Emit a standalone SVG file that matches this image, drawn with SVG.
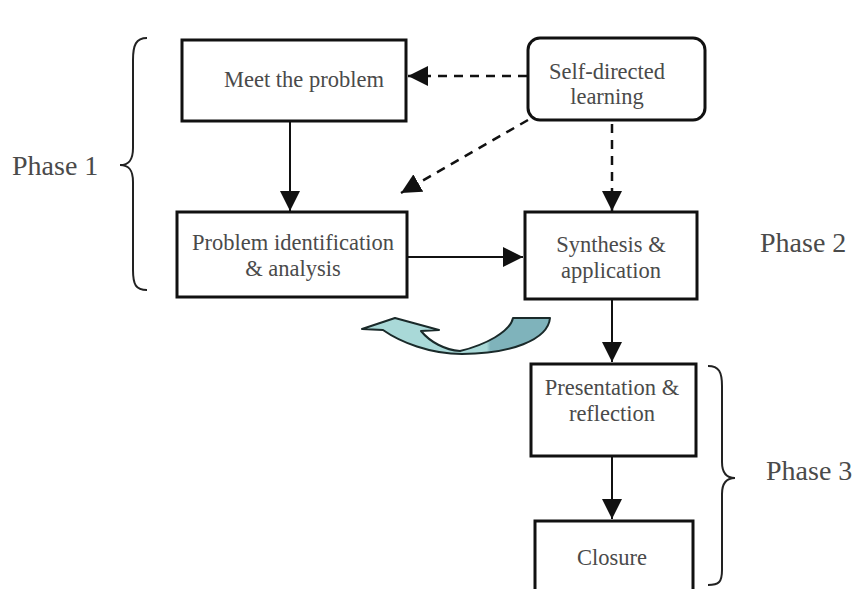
<svg xmlns="http://www.w3.org/2000/svg" width="857" height="589" viewBox="0 0 857 589">
<defs>
<style>
.box{fill:#fff;stroke:#111;stroke-width:3}
.t{font-family:"Liberation Serif","Times New Roman",serif;font-size:22.5px;fill:#4a4a4a;text-anchor:middle}
.ph{font-family:"Liberation Serif","Times New Roman",serif;font-size:28px;fill:#4a4a4a}
.ln{stroke:#111;stroke-width:2;fill:none}
.dash{stroke:#111;stroke-width:2.5;fill:none;stroke-dasharray:9,7}
.brace{stroke:#222;stroke-width:2;fill:none}
</style>
<marker id="ahb" viewBox="0 0 10 10" refX="10" refY="5" markerWidth="20" markerHeight="20" markerUnits="userSpaceOnUse" orient="auto">
<path d="M0,0 L10,5 L0,10 Z" fill="#111"/>
</marker>
<linearGradient id="cg" x1="360" y1="0" x2="552" y2="0" gradientUnits="userSpaceOnUse">
<stop offset="0" stop-color="#a9d9d8"/>
<stop offset="0.66" stop-color="#a9d9d8"/>
<stop offset="0.68" stop-color="#7fb3bb"/>
<stop offset="1" stop-color="#7fb3bb"/>
</linearGradient>
</defs>
<rect width="857" height="589" fill="#fff"/>

<g id="connectors">
<line class="ln" x1="290" y1="122" x2="290" y2="211" marker-end="url(#ahb)"/>
<line class="ln" x1="408" y1="257" x2="523" y2="257" marker-end="url(#ahb)"/>
<line class="ln" x1="612" y1="300" x2="612" y2="362" marker-end="url(#ahb)"/>
<line class="ln" x1="612" y1="457" x2="612" y2="519" marker-end="url(#ahb)"/>
<line class="dash" x1="527" y1="76" x2="408" y2="76" marker-end="url(#ahb)"/>
<line class="dash" x1="528" y1="120" x2="401" y2="193" marker-end="url(#ahb)"/>
<line class="dash" x1="612" y1="124" x2="612" y2="211" marker-end="url(#ahb)"/>
</g>

<g id="phase1">
<path class="brace" d="M147,38 C136,38 133,45 133,60 L133,148 C133,160 129,165 120,165 C129,165 133,170 133,182 L133,270 C133,285 136,290 147,290"/>
<text class="ph" x="12" y="175">Phase 1</text>
</g>
<g id="phase2">
<text class="ph" x="760" y="252">Phase 2</text>
</g>
<g id="phase3">
<path class="brace" d="M708,366 C719,366 722,372 722,386 L722,462 C722,473 726,478 735,478 C726,478 722,483 722,494 L722,570 C722,582 719,585 708,585"/>
<text class="ph" x="766" y="480">Phase 3</text>
</g>

<g id="meet">
<rect class="box" x="182" y="40" width="224" height="81"/>
<text class="t" x="304" y="87">Meet the problem</text>
</g>
<g id="identification">
<rect class="box" x="177" y="212" width="230" height="85"/>
<text class="t" x="293" y="250">Problem identification</text>
<text class="t" x="293" y="276">&amp; analysis</text>
</g>
<g id="selfdirected">
<rect class="box" x="528" y="38" width="177" height="82" rx="12" ry="12"/>
<text class="t" x="607" y="79">Self-directed</text>
<text class="t" x="607" y="104">learning</text>
</g>
<g id="synthesis">
<rect class="box" x="525" y="212" width="172" height="87"/>
<text class="t" x="611" y="252">Synthesis &amp;</text>
<text class="t" x="611" y="278">application</text>
</g>
<g id="presentation">
<rect class="box" x="531" y="364" width="165" height="92"/>
<text class="t" x="612" y="395">Presentation &amp;</text>
<text class="t" x="612" y="421">reflection</text>
</g>
<g id="closure">
<rect class="box" x="535" y="521" width="158" height="80"/>
<text class="t" x="612" y="565">Closure</text>
</g>

<g id="curved-arrow">
<path d="M362,329 L395,318 L439,330 L421,331 C430,342 445,350 460,351 C485,345 510,332 513,318 L550,318 C548,340 510,354 462,354 C430,354 400,342 383,330 Z" fill="url(#cg)" stroke="#1a2a2a" stroke-width="2" stroke-linejoin="round"/>
</g>
</svg>
